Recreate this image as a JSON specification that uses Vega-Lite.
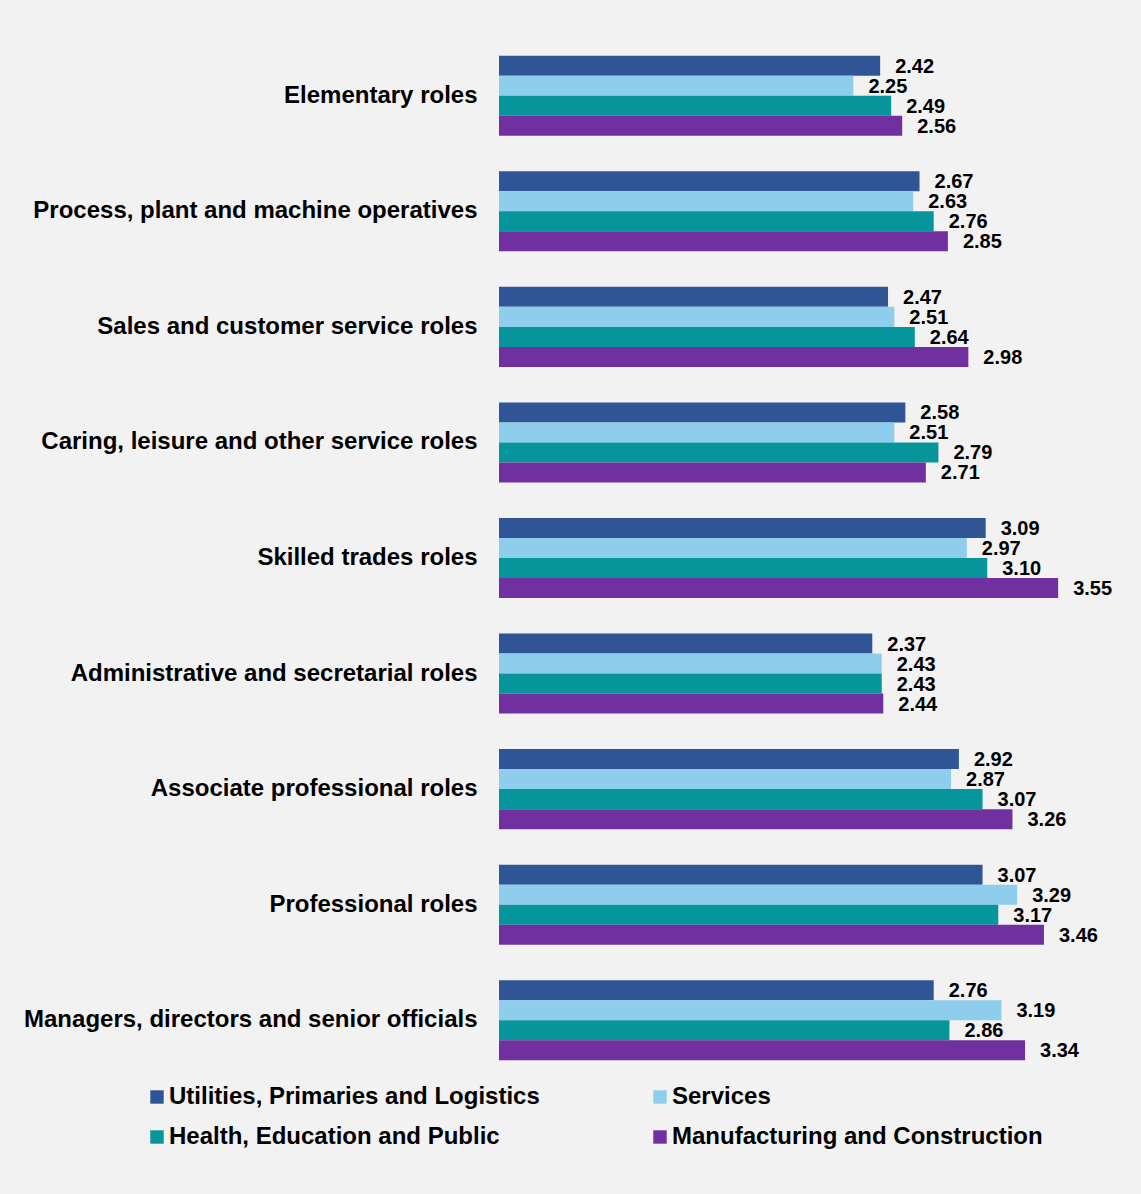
{
  "$schema": "https://vega.github.io/schema/vega-lite/v6.json",
  "autosize": {"type": "none"},
  "width": 630,
  "height": 1040,
  "padding": {"left": 499, "top": 38, "right": 12, "bottom": 116},
  "background": "#f2f2f2",
  "config": {
    "font": "Liberation Sans",
    "view": {"stroke": null},
    "axis": {"labelFont": "Liberation Sans"}
  },
  "data": {
    "values": [
      {"role": "Elementary roles", "sector": "Utilities, Primaries and Logistics", "value": 2.42},
      {"role": "Elementary roles", "sector": "Services", "value": 2.25},
      {"role": "Elementary roles", "sector": "Health, Education and Public", "value": 2.49},
      {"role": "Elementary roles", "sector": "Manufacturing and Construction", "value": 2.56},
      {"role": "Process, plant and machine operatives", "sector": "Utilities, Primaries and Logistics", "value": 2.67},
      {"role": "Process, plant and machine operatives", "sector": "Services", "value": 2.63},
      {"role": "Process, plant and machine operatives", "sector": "Health, Education and Public", "value": 2.76},
      {"role": "Process, plant and machine operatives", "sector": "Manufacturing and Construction", "value": 2.85},
      {"role": "Sales and customer service roles", "sector": "Utilities, Primaries and Logistics", "value": 2.47},
      {"role": "Sales and customer service roles", "sector": "Services", "value": 2.51},
      {"role": "Sales and customer service roles", "sector": "Health, Education and Public", "value": 2.64},
      {"role": "Sales and customer service roles", "sector": "Manufacturing and Construction", "value": 2.98},
      {"role": "Caring, leisure and other service roles", "sector": "Utilities, Primaries and Logistics", "value": 2.58},
      {"role": "Caring, leisure and other service roles", "sector": "Services", "value": 2.51},
      {"role": "Caring, leisure and other service roles", "sector": "Health, Education and Public", "value": 2.79},
      {"role": "Caring, leisure and other service roles", "sector": "Manufacturing and Construction", "value": 2.71},
      {"role": "Skilled trades roles", "sector": "Utilities, Primaries and Logistics", "value": 3.09},
      {"role": "Skilled trades roles", "sector": "Services", "value": 2.97},
      {"role": "Skilled trades roles", "sector": "Health, Education and Public", "value": 3.10},
      {"role": "Skilled trades roles", "sector": "Manufacturing and Construction", "value": 3.55},
      {"role": "Administrative and secretarial roles", "sector": "Utilities, Primaries and Logistics", "value": 2.37},
      {"role": "Administrative and secretarial roles", "sector": "Services", "value": 2.43},
      {"role": "Administrative and secretarial roles", "sector": "Health, Education and Public", "value": 2.43},
      {"role": "Administrative and secretarial roles", "sector": "Manufacturing and Construction", "value": 2.44},
      {"role": "Associate professional roles", "sector": "Utilities, Primaries and Logistics", "value": 2.92},
      {"role": "Associate professional roles", "sector": "Services", "value": 2.87},
      {"role": "Associate professional roles", "sector": "Health, Education and Public", "value": 3.07},
      {"role": "Associate professional roles", "sector": "Manufacturing and Construction", "value": 3.26},
      {"role": "Professional roles", "sector": "Utilities, Primaries and Logistics", "value": 3.07},
      {"role": "Professional roles", "sector": "Services", "value": 3.29},
      {"role": "Professional roles", "sector": "Health, Education and Public", "value": 3.17},
      {"role": "Professional roles", "sector": "Manufacturing and Construction", "value": 3.46},
      {"role": "Managers, directors and senior officials", "sector": "Utilities, Primaries and Logistics", "value": 2.76},
      {"role": "Managers, directors and senior officials", "sector": "Services", "value": 3.19},
      {"role": "Managers, directors and senior officials", "sector": "Health, Education and Public", "value": 2.86},
      {"role": "Managers, directors and senior officials", "sector": "Manufacturing and Construction", "value": 3.34}
    ]
  },
  "encoding": {
    "y": {
      "field": "role", "type": "nominal", "sort": null, "title": null,
      "scale": {"paddingInner": 0.307, "paddingOuter": 0.1535},
      "axis": {"domain": false, "ticks": false, "labelFontSize": 24, "labelFontWeight": "bold", "labelColor": "#000000", "labelPadding": 22, "labelLimit": 600}
    },
    "yOffset": {
      "field": "sector", "type": "nominal", "sort": ["Utilities, Primaries and Logistics", "Services", "Health, Education and Public", "Manufacturing and Construction"],
      "scale": {"paddingInner": 0, "paddingOuter": 0}
    },
    "x": {
      "field": "value", "type": "quantitative", "title": null,
      "scale": {"domain": [0, 4], "nice": false, "zero": true},
      "axis": null
    }
  },
  "layer": [
    {
      "mark": {"type": "bar", "cornerRadius": 0},
      "encoding": {
        "color": {
          "field": "sector", "type": "nominal", "title": null,
          "sort": ["Utilities, Primaries and Logistics", "Services", "Health, Education and Public", "Manufacturing and Construction"],
          "scale": {
            "domain": ["Utilities, Primaries and Logistics", "Services", "Health, Education and Public", "Manufacturing and Construction"],
            "range": ["#2f5597", "#8fcdec", "#05959b", "#7030a0"]
          },
          "legend": {
            "orient": "none", "legendX": -354, "legendY": 1047,
            "direction": "horizontal", "columns": 2,
            "symbolType": "square", "symbolSize": 180, "symbolStrokeWidth": 0, "symbolOpacity": 1,
            "labelFontSize": 24, "labelFontWeight": "bold", "labelColor": "#000000", "labelOffset": 0, "labelLimit": 600,
            "columnPadding": 108, "rowPadding": 16
          }
        }
      }
    },
    {
      "mark": {"type": "text", "align": "left", "baseline": "middle", "dx": 15, "dy": 1, "fontSize": 20, "fontWeight": "bold", "color": "#000000"},
      "encoding": {
        "text": {"field": "value", "type": "quantitative", "format": ".2f"}
      }
    }
  ]
}
